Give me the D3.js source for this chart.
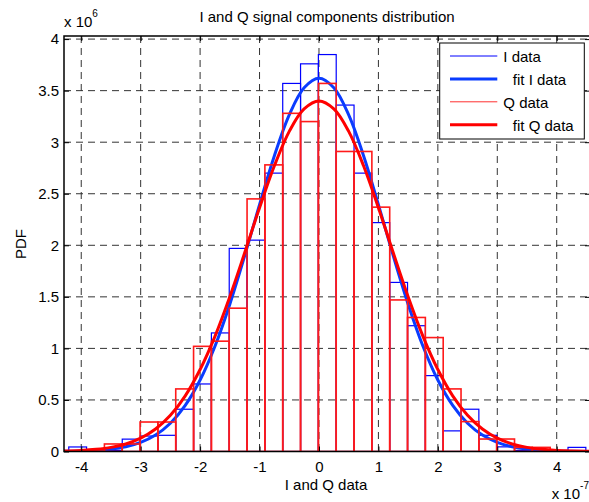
<!DOCTYPE html>
<html>
<head>
<meta charset="utf-8">
<script src="https://cdn.jsdelivr.net/npm/d3@7/dist/d3.min.js"></script>
<style>
  html, body { margin: 0; padding: 0; background: #fff; overflow: hidden; }
  svg { display: block; font-family: 'Liberation Sans', Arial, sans-serif; }
</style>
</head>
<body>
<div id="chart"></div>
<script>
'use strict'

// histogram bins (units of 1e-7) and pdf heights (units of 1e6)
var binCenters = [-4.06, -3.76, -3.46, -3.16, -2.86, -2.56, -2.26, -1.96, -1.66, -1.36,
  -1.06, -0.76, -0.46, -0.16, 0.14, 0.44, 0.74, 1.04, 1.34, 1.64,
  1.94, 2.24, 2.54, 2.84, 3.14, 3.44, 3.74, 4.04, 4.34]
var binWidth = 0.3
var iData = [0.044, 0.005, 0.01, 0.12, 0.15, 0.157, 0.41, 0.655, 1.15, 1.97,
  2.05, 2.70, 3.57, 3.76, 3.85, 3.36, 2.70, 2.22, 1.64, 1.22,
  0.736, 0.20, 0.41, 0.157, 0.045, 0.01, 0.01, 0, 0.04]
var qData = [0, 0.005, 0.073, 0.073, 0.286, 0.286, 0.607, 1.02, 1.07, 1.39,
  2.45, 2.78, 3.28, 3.20, 3.57, 2.91, 2.91, 2.37, 1.47, 1.30,
  1.105, 0.607, 0.29, 0.121, 0.121, 0.04, 0.04, 0.01, 0]

// fitted curves
var fitX = [-4.5, -4.25, -4, -3.75, -3.5, -3.25, -3, -2.75, -2.5, -2.25, -2, -1.75, -1.5,
  -1.25, -1, -0.75, -0.5, -0.25, 0, 0.25, 0.5, 0.75, 1, 1.25, 1.5, 1.75,
  2, 2.25, 2.5, 2.75, 3, 3.25, 3.5, 3.75, 4, 4.25, 4.5, 4.75]
var fitI = [0.001, 0.002, 0.005, 0.011, 0.023, 0.046, 0.088, 0.159, 0.274, 0.447, 0.693, 1.021, 1.429,
  1.898, 2.395, 2.869, 3.265, 3.528, 3.62, 3.528, 3.265, 2.869, 2.395, 1.898, 1.429, 1.021,
  0.693, 0.447, 0.274, 0.159, 0.088, 0.046, 0.023, 0.011, 0.005, 0.002, 0.001, 0.001]
var fitQ = [0.002, 0.005, 0.010, 0.021, 0.040, 0.073, 0.129, 0.218, 0.351, 0.540, 0.795, 1.117, 1.501,
  1.927, 2.364, 2.771, 3.105, 3.323, 3.40, 3.323, 3.105, 2.771, 2.364, 1.927, 1.501, 1.117,
  0.795, 0.540, 0.351, 0.218, 0.129, 0.073, 0.040, 0.021, 0.010, 0.005, 0.002, 0.001]

var xTicks = [-4, -3, -2, -1, 0, 1, 2, 3, 4]
var xTickLabels = ['-4', '-3', '-2', '-1', '0', '1', '2', '3', '4']
var yTicks = [0, 0.5, 1, 1.5, 2, 2.5, 3, 3.5, 4]
var yTickLabels = ['0', '0.5', '1', '1.5', '2', '2.5', '3', '3.5', '4']

var legendItems = [
  { label: 'I data', color: '#0000ff', width: 1, dx: 0 },
  { label: 'fit I data', color: '#0a3cff', width: 3, dx: 9.5 },
  { label: 'Q data', color: '#ff3030', width: 1, dx: 0 },
  { label: 'fit Q data', color: '#ff0000', width: 3, dx: 9.5 }
]

var W = 589
var H = 502
var plotL = 64
var plotR = 590
var plotT = 36
var plotB = 451.5

var x = d3.scaleLinear().domain([-4.29, 4.56]).range([plotL, plotR])
var y = d3.scaleLinear().domain([0, 4.03]).range([plotB, plotT])

var svg = d3.select('#chart')
  .append('svg')
  .attr('width', W)
  .attr('height', H)

svg.append('rect').attr('width', W).attr('height', H).attr('fill', '#fff')

svg.append('clipPath')
  .attr('id', 'plot-clip')
  .append('rect')
  .attr('x', plotL)
  .attr('y', plotT)
  .attr('width', plotR - plotL)
  .attr('height', plotB - plotT)

// grid
var grid = svg.append('g').attr('class', 'grid')
grid.selectAll('line.vx')
  .data(xTicks)
  .enter()
  .append('line')
  .attr('class', 'vx')
  .attr('x1', function(d) { return x(d) })
  .attr('x2', function(d) { return x(d) })
  .attr('y1', plotT)
  .attr('y2', plotB)
grid.selectAll('line.hy')
  .data(yTicks)
  .enter()
  .append('line')
  .attr('class', 'hy')
  .attr('x1', plotL)
  .attr('x2', plotR)
  .attr('y1', function(d) { return y(d) })
  .attr('y2', function(d) { return y(d) })
grid.selectAll('line')
  .attr('stroke', '#333')
  .attr('stroke-width', 1)
  .attr('stroke-dasharray', '7,5')

var plot = svg.append('g').attr('clip-path', 'url(#plot-clip)')

function drawBars(values, color, sw) {
  plot.append('g')
    .selectAll('rect')
    .data(values)
    .enter()
    .append('rect')
    .attr('x', function(d, i) { return x(binCenters[i] - binWidth / 2) })
    .attr('width', function(d, i) {
      return x(binCenters[i] + binWidth / 2) - x(binCenters[i] - binWidth / 2)
    })
    .attr('y', function(d) { return y(d) })
    .attr('height', function(d) { return y(0) - y(d) })
    .attr('fill', 'none')
    .attr('stroke', color)
    .attr('stroke-width', sw)
}

function drawFit(values, color) {
  var line = d3.line()
    .x(function(d, i) { return x(fitX[i]) })
    .y(function(d) { return y(d) })
    .curve(d3.curveCatmullRom)
  plot.append('path')
    .datum(values)
    .attr('d', line)
    .attr('fill', 'none')
    .attr('stroke', color)
    .attr('stroke-width', 3)
}

drawBars(iData, '#0000ff', 1.2)
drawFit(fitI, '#0a3cff')
drawBars(qData, '#ff1a1a', 1.6)
drawFit(fitQ, '#ff0000')

// axes with inside ticks
var xAxis = d3.axisBottom(x)
  .tickValues(xTicks)
  .tickFormat(function(d, i) { return xTickLabels[i] })
  .tickSize(-5)
  .tickPadding(9.5)
var yAxis = d3.axisLeft(y)
  .tickValues(yTicks)
  .tickFormat(function(d, i) { return yTickLabels[i] })
  .tickSize(-5)
  .tickPadding(5)

function styleAxis(g) {
  g.select('.domain').remove()
  g.selectAll('line').attr('stroke', '#000').attr('stroke-width', 1)
  g.selectAll('text')
    .attr('font-family', "'Liberation Sans', Arial, sans-serif")
    .attr('font-size', '15px')
    .attr('fill', '#000')
}

svg.append('g')
  .attr('transform', 'translate(0,' + plotB + ')')
  .call(xAxis)
  .call(styleAxis)

svg.append('g')
  .attr('transform', 'translate(' + plotL + ',0)')
  .call(yAxis)
  .call(styleAxis)

svg.append('g')
  .attr('transform', 'translate(0,' + plotT + ')')
  .call(d3.axisTop(x).tickValues(xTicks).tickFormat('').tickSize(-5))
  .call(styleAxis)

svg.append('g')
  .attr('transform', 'translate(' + plotR + ',0)')
  .call(d3.axisRight(y).tickValues(yTicks).tickFormat('').tickSize(-5))
  .call(styleAxis)

// box
svg.append('rect')
  .attr('x', plotL)
  .attr('y', plotT)
  .attr('width', plotR - plotL)
  .attr('height', plotB - plotT)
  .attr('fill', 'none')
  .attr('stroke', '#000')
  .attr('stroke-width', 1.5)

// texts
svg.append('text')
  .attr('x', (plotL + plotR) / 2)
  .attr('y', 21.5)
  .attr('text-anchor', 'middle')
  .attr('font-size', '15px')
  .text('I and Q signal components distribution')

svg.append('text')
  .attr('x', 326)
  .attr('y', 490)
  .attr('text-anchor', 'middle')
  .attr('font-size', '15px')
  .text('I and Q data')

svg.append('text')
  .attr('transform', 'translate(26,244) rotate(-90)')
  .attr('text-anchor', 'middle')
  .attr('font-size', '15px')
  .text('PDF')

var yExp = svg.append('text').attr('x', 64).attr('y', 27.3).attr('font-size', '15px')
yExp.append('tspan').text('x 10')
yExp.append('tspan').attr('dy', -10).attr('font-size', '10px').text('6')

var xExp = svg.append('text').attr('x', 551.7).attr('y', 499).attr('font-size', '15px')
xExp.append('tspan').text('x 10')
xExp.append('tspan').attr('dy', -10).attr('font-size', '10px').text('-7')

// legend
var legend = svg.append('g')
legend.append('rect')
  .attr('x', 439.7)
  .attr('y', 43)
  .attr('width', 144.6)
  .attr('height', 96)
  .attr('fill', '#fff')
  .attr('stroke', '#000')
  .attr('stroke-width', 1)

var item = legend.selectAll('g.item')
  .data(legendItems)
  .enter()
  .append('g')
  .attr('class', 'item')
  .attr('transform', function(d, i) { return 'translate(0,' + (56 + i * 22.9) + ')' })

item.append('line')
  .attr('x1', 450)
  .attr('x2', 497.3)
  .attr('stroke', function(d) { return d.color })
  .attr('stroke-width', function(d) { return d.width })

item.append('text')
  .attr('x', function(d) { return 503.3 + d.dx })
  .attr('y', 6)
  .attr('font-size', '15px')
  .text(function(d) { return d.label })
</script>
</body>
</html>
